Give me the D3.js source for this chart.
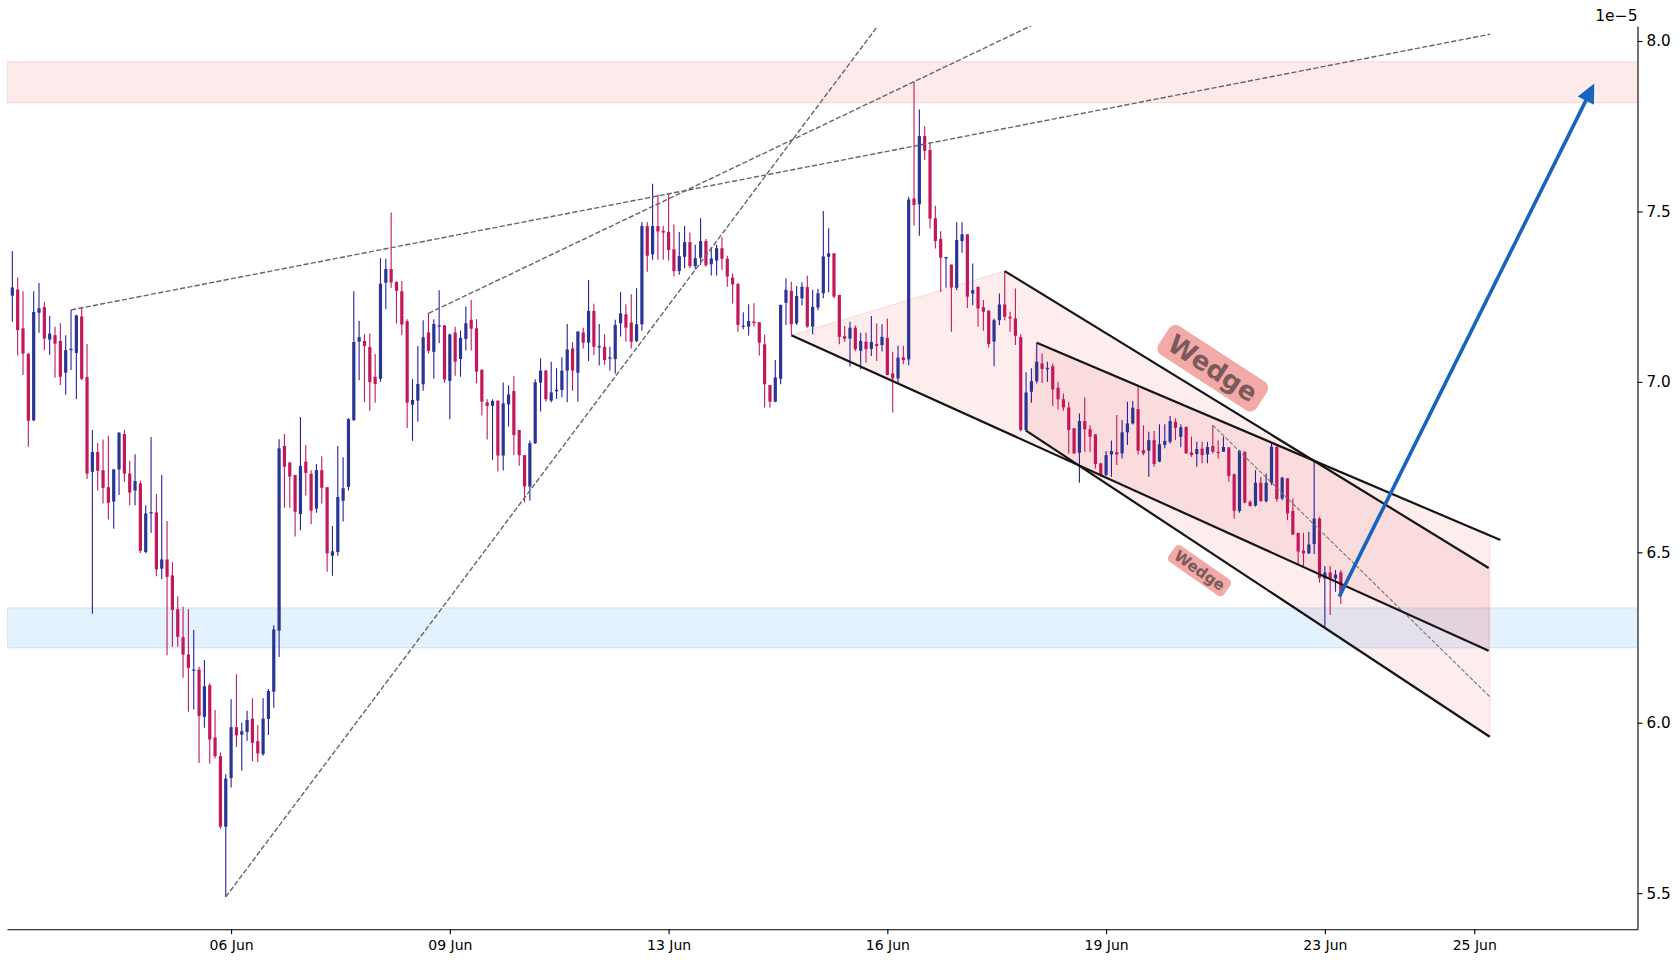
<!DOCTYPE html>
<html>
<head>
<meta charset="utf-8">
<script src="https://cdn.jsdelivr.net/npm/d3@7"></script>
<style>
  body { margin: 0; background: #fff; }
  svg { display: block; font-family: "DejaVu Sans", sans-serif; }
</style>
</head>
<body>
<div id="chart"></div>
<script>
// prices are in units of 1e-5 (the axis offset label)
const candleOpen = [
  7.253, 7.271, 7.157, 7.082, 6.887, 7.203, 7.219, 7.124, 7.137, 7.120,
  7.027, 7.093, 7.085, 7.192, 7.014, 6.736, 6.794, 6.741, 6.691, 6.649,
  6.743, 6.847, 6.731, 6.681, 6.702, 6.501, 6.614, 6.617, 6.452, 6.479,
  6.432, 6.333, 6.251, 6.200, 6.153, 6.156, 6.017, 6.110, 5.957, 5.902,
  5.695, 5.838, 5.987, 5.965, 5.973, 6.012, 5.946, 5.908, 6.011, 6.091,
  6.270, 6.812, 6.763, 6.727, 6.612, 6.766, 6.730, 6.628, 6.741, 6.691,
  6.490, 6.501, 6.651, 6.692, 6.888, 7.118, 7.120, 7.102, 7.015, 7.009,
  7.291, 7.331, 7.293, 7.266, 7.178, 6.933, 6.945, 6.993, 7.145, 7.088,
  7.162, 7.166, 7.003, 7.145, 7.067, 7.126, 7.182, 7.157, 7.035, 6.940,
  6.930, 6.945, 6.784, 6.934, 6.973, 6.859, 6.785, 6.693, 6.820, 6.998,
  7.033, 6.945, 6.972, 6.976, 7.033, 7.098, 7.027, 7.145, 7.115, 7.208,
  7.101, 7.103, 7.068, 7.067, 7.172, 7.198, 7.174, 7.120, 7.169, 7.457,
  7.374, 7.457, 7.443, 7.440, 7.389, 7.325, 7.367, 7.410, 7.340, 7.364,
  7.413, 7.345, 7.356, 7.392, 7.361, 7.306, 7.287, 7.162, 7.162, 7.177,
  7.175, 7.110, 6.991, 6.942, 7.009, 7.232, 7.267, 7.172, 7.245, 7.278,
  7.162, 7.218, 7.260, 7.367, 7.377, 7.255, 7.134, 7.127, 7.159, 7.091,
  7.118, 7.097, 7.111, 7.108, 7.129, 7.025, 7.010, 7.072, 7.066, 7.538,
  7.521, 7.721, 7.680, 7.480, 7.419, 7.362, 7.344, 7.276, 7.413, 7.433,
  7.259, 7.279, 7.219, 7.209, 7.118, 7.181, 7.227, 7.191, 7.186, 7.131,
  6.859, 6.971, 7.002, 7.054, 7.037, 7.046, 6.983, 6.949, 6.925, 6.864,
  6.792, 6.885, 6.861, 6.846, 6.761, 6.727, 6.787, 6.794, 6.790, 6.852,
  6.878, 6.920, 6.800, 6.798, 6.829, 6.766, 6.815, 6.824, 6.883, 6.839,
  6.868, 6.793, 6.788, 6.804, 6.787, 6.812, 6.795, 6.795, 6.808, 6.729,
  6.621, 6.795, 6.648, 6.637, 6.704, 6.650, 6.704, 6.810, 6.658, 6.717,
  6.621, 6.557, 6.505, 6.497, 6.524, 6.599, 6.423, 6.441, 6.423, 6.441
]
const candleHigh = [
  7.384, 7.306, 7.266, 7.085, 7.266, 7.290, 7.234, 7.193, 7.162, 7.172,
  7.137, 7.211, 7.197, 7.220, 7.111, 6.859, 6.821, 6.831, 6.842, 6.745,
  6.852, 6.859, 6.768, 6.788, 6.711, 6.638, 6.838, 6.671, 6.727, 6.592,
  6.471, 6.371, 6.340, 6.334, 6.272, 6.164, 6.184, 6.115, 6.037, 5.913,
  5.849, 6.069, 6.142, 6.000, 6.035, 6.072, 5.993, 6.072, 6.099, 6.286,
  6.832, 6.847, 6.766, 6.727, 6.897, 6.815, 6.741, 6.759, 6.782, 6.691,
  6.577, 6.812, 6.779, 6.893, 7.266, 7.179, 7.140, 7.142, 7.082, 7.363,
  7.361, 7.497, 7.295, 7.296, 7.184, 7.008, 7.105, 7.181, 7.202, 7.184,
  7.269, 7.166, 7.142, 7.162, 7.151, 7.221, 7.240, 7.184, 7.038, 6.949,
  6.949, 6.945, 6.998, 6.990, 7.017, 6.859, 6.785, 6.828, 7.008, 7.069,
  7.035, 7.059, 7.040, 7.072, 7.170, 7.116, 7.148, 7.159, 7.299, 7.229,
  7.170, 7.140, 7.103, 7.182, 7.264, 7.228, 7.257, 7.275, 7.469, 7.469,
  7.581, 7.550, 7.457, 7.551, 7.462, 7.440, 7.457, 7.438, 7.402, 7.480,
  7.419, 7.395, 7.402, 7.424, 7.370, 7.318, 7.291, 7.204, 7.228, 7.231,
  7.175, 7.138, 6.991, 7.064, 7.226, 7.304, 7.294, 7.281, 7.292, 7.311,
  7.270, 7.273, 7.501, 7.451, 7.377, 7.255, 7.164, 7.176, 7.165, 7.144,
  7.144, 7.193, 7.171, 7.169, 7.186, 7.088, 7.106, 7.106, 7.543, 7.880,
  7.799, 7.750, 7.704, 7.517, 7.442, 7.367, 7.344, 7.468, 7.468, 7.433,
  7.347, 7.279, 7.240, 7.209, 7.186, 7.259, 7.325, 7.206, 7.274, 7.140,
  7.028, 7.040, 7.115, 7.083, 7.059, 7.054, 7.000, 6.966, 6.942, 6.864,
  6.907, 6.954, 6.873, 6.846, 6.763, 6.797, 6.828, 6.903, 6.888, 6.942,
  6.944, 6.984, 6.873, 6.854, 6.856, 6.876, 6.876, 6.900, 6.893, 6.876,
  6.868, 6.839, 6.824, 6.824, 6.824, 6.873, 6.829, 6.839, 6.808, 6.731,
  6.800, 6.795, 6.653, 6.741, 6.722, 6.731, 6.820, 6.810, 6.722, 6.717,
  6.658, 6.557, 6.557, 6.560, 6.766, 6.604, 6.460, 6.460, 6.448, 6.448
]
const candleLow = [
  7.176, 7.077, 7.020, 6.810, 6.885, 7.144, 7.093, 7.079, 7.012, 6.991,
  6.962, 7.035, 6.950, 7.005, 6.715, 6.320, 6.681, 6.643, 6.596, 6.569,
  6.668, 6.707, 6.638, 6.638, 6.498, 6.497, 6.557, 6.430, 6.422, 6.198,
  6.223, 6.223, 6.132, 6.032, 6.039, 5.882, 5.985, 5.880, 5.895, 5.690,
  5.489, 5.810, 5.929, 5.859, 5.947, 5.887, 5.885, 5.903, 5.964, 6.044,
  6.193, 6.631, 6.631, 6.546, 6.565, 6.667, 6.582, 6.616, 6.643, 6.443,
  6.431, 6.490, 6.590, 6.681, 6.885, 7.005, 6.941, 6.915, 6.939, 7.000,
  7.214, 7.276, 7.171, 7.137, 6.865, 6.827, 6.883, 6.974, 7.083, 7.009,
  7.113, 6.997, 6.890, 7.018, 7.015, 7.092, 7.092, 6.996, 6.901, 6.831,
  6.771, 6.737, 6.740, 6.869, 6.785, 6.754, 6.647, 6.652, 6.818, 6.913,
  6.942, 6.940, 6.950, 6.955, 6.940, 6.974, 6.942, 7.098, 7.061, 7.079,
  7.048, 7.050, 7.033, 7.024, 7.133, 7.118, 7.098, 7.116, 7.151, 7.323,
  7.358, 7.358, 7.358, 7.356, 7.309, 7.314, 7.333, 7.333, 7.330, 7.343,
  7.338, 7.312, 7.312, 7.328, 7.279, 7.230, 7.147, 7.154, 7.136, 7.162,
  7.077, 6.925, 6.925, 6.940, 6.993, 7.167, 7.138, 7.167, 7.224, 7.159,
  7.140, 7.210, 7.245, 7.263, 7.245, 7.110, 7.118, 7.044, 7.090, 7.037,
  7.056, 7.076, 7.061, 7.089, 7.020, 6.910, 6.995, 7.052, 7.049, 7.459,
  7.429, 7.651, 7.450, 7.391, 7.264, 7.276, 7.147, 7.269, 7.379, 7.217,
  7.225, 7.162, 7.150, 7.101, 7.046, 7.166, 7.181, 7.147, 7.108, 6.855,
  6.854, 6.939, 6.995, 6.997, 7.000, 6.929, 6.919, 6.915, 6.790, 6.790,
  6.704, 6.794, 6.795, 6.746, 6.722, 6.724, 6.722, 6.756, 6.775, 6.815,
  6.875, 6.786, 6.785, 6.722, 6.751, 6.764, 6.805, 6.819, 6.829, 6.808,
  6.790, 6.780, 6.751, 6.761, 6.761, 6.790, 6.775, 6.795, 6.707, 6.599,
  6.616, 6.643, 6.634, 6.634, 6.648, 6.646, 6.697, 6.648, 6.653, 6.595,
  6.551, 6.462, 6.458, 6.495, 6.495, 6.411, 6.277, 6.316, 6.384, 6.348
]
const candleClose = [
  7.277, 7.152, 7.083, 6.886, 7.205, 7.216, 7.127, 7.142, 7.112, 7.015,
  7.093, 7.097, 7.195, 7.009, 6.731, 6.794, 6.739, 6.689, 6.645, 6.743,
  6.851, 6.731, 6.675, 6.709, 6.504, 6.614, 6.618, 6.450, 6.479, 6.428,
  6.331, 6.252, 6.200, 6.161, 6.156, 6.020, 6.107, 5.951, 5.902, 5.695,
  5.836, 5.987, 5.963, 5.975, 6.008, 5.941, 5.910, 6.012, 6.093, 6.274,
  6.805, 6.751, 6.722, 6.619, 6.753, 6.733, 6.622, 6.741, 6.689, 6.497,
  6.503, 6.662, 6.688, 6.891, 7.117, 7.131, 7.105, 6.999, 6.994, 7.288,
  7.331, 7.292, 7.267, 7.168, 6.939, 6.947, 6.994, 7.131, 7.091, 7.170,
  7.166, 7.007, 7.139, 7.059, 7.129, 7.172, 7.156, 7.030, 6.942, 6.929,
  6.944, 6.784, 6.937, 6.963, 6.844, 6.785, 6.693, 6.820, 6.999, 7.033,
  6.949, 6.969, 6.977, 7.033, 7.095, 7.033, 7.148, 7.115, 7.208, 7.103,
  7.105, 7.064, 7.072, 7.167, 7.201, 7.159, 7.118, 7.169, 7.457, 7.370,
  7.457, 7.441, 7.438, 7.387, 7.325, 7.369, 7.410, 7.340, 7.363, 7.413,
  7.342, 7.362, 7.392, 7.361, 7.309, 7.286, 7.167, 7.165, 7.178, 7.172,
  7.115, 6.993, 6.942, 7.013, 7.226, 7.270, 7.169, 7.252, 7.279, 7.162,
  7.220, 7.260, 7.368, 7.377, 7.250, 7.132, 7.127, 7.159, 7.096, 7.120,
  7.096, 7.117, 7.105, 7.132, 7.020, 7.010, 7.071, 7.064, 7.535, 7.519,
  7.721, 7.678, 7.479, 7.413, 7.364, 7.366, 7.277, 7.416, 7.433, 7.250,
  7.269, 7.215, 7.206, 7.111, 7.181, 7.227, 7.191, 7.186, 7.135, 6.859,
  6.969, 7.002, 7.059, 7.038, 7.041, 6.978, 6.949, 6.925, 6.859, 6.790,
  6.885, 6.861, 6.839, 6.759, 6.727, 6.785, 6.797, 6.787, 6.852, 6.878,
  6.924, 6.798, 6.790, 6.829, 6.759, 6.817, 6.827, 6.885, 6.865, 6.867,
  6.790, 6.785, 6.803, 6.785, 6.809, 6.795, 6.792, 6.809, 6.724, 6.622,
  6.798, 6.646, 6.636, 6.704, 6.650, 6.704, 6.810, 6.656, 6.719, 6.614,
  6.552, 6.502, 6.497, 6.523, 6.599, 6.425, 6.441, 6.423, 6.435, 6.379
]

// x axis is the candle index; ticks carry the date labels
const xTickIndex = [41, 82, 123, 164, 205, 246, 274]
const xTickLabels = ["06 Jun", "09 Jun", "13 Jun", "16 Jun", "19 Jun", "23 Jun", "25 Jun"]
const yTicks = [5.5, 6.0, 6.5, 7.0, 7.5, 8.0]
const yOffsetLabel = "1e\u22125"

// zones [low, high]
const resistanceZone = [7.819, 7.939]
const supportZone = [6.220, 6.337]

// trend lines as [index, price] pairs
const dashedLines = [
  [[11, 7.211], [277, 8.020]],
  [[78, 7.201], [191, 8.045]],
  [[40, 5.489], [162, 8.040]],
]
const fineDashedLine = [[225, 6.873], [277, 6.075]]

const outerUpper = [[186, 7.325], [276.7, 6.454]]
const outerLower = [[146, 7.137], [276.7, 6.211]]
const innerUpper = [[192, 7.115], [278.9, 6.536]]
const innerLower = [[190, 6.857], [276.9, 5.959]]

const wedgeLabels = [
  { text: "Wedge", at: [225.0, 7.040], size: 26, angle: 33 },
  { text: "Wedge", at: [222.5, 6.446], size: 15, angle: 35 },
]
const projectionArrow = [[248.7, 6.370], [296.5, 7.875]]

async function drawCandles() {

// 1. Dimensions
  const dimensions = {
    width: 1680,
    height: 960,
    left: 7,
    right: 1637.5,
    top: 26,
    bottom: 929.3,
  }

// 2. Canvas
  const wrapper = d3.select("#chart")
    .append("svg")
      .attr("width", dimensions.width)
      .attr("height", dimensions.height)

  wrapper.append("defs").append("clipPath")
      .attr("id", "plotClip")
    .append("rect")
      .attr("x", dimensions.left)
      .attr("y", dimensions.top)
      .attr("width", dimensions.right - dimensions.left)
      .attr("height", dimensions.bottom - dimensions.top)

  const bounds = wrapper.append("g")
      .attr("clip-path", "url(#plotClip)")

// 3. Scales
  const xScale = d3.scaleLinear()
    .domain([-1, 304.6])
    .range([dimensions.left, dimensions.right])

  const yScale = d3.scaleLinear()
    .domain([5.394, 8.044])
    .range([dimensions.bottom, dimensions.top])

  const pt = d => [xScale(d[0]), yScale(d[1])]
  const lerp = (seg, x) => {
    const [[x0, y0], [x1, y1]] = seg
    return y0 + (y1 - y0) * (x - x0) / (x1 - x0)
  }

// 4. Zones
  const drawZone = (zone, color) => bounds.append("rect")
      .attr("x", dimensions.left)
      .attr("width", dimensions.right - dimensions.left)
      .attr("y", yScale(zone[1]))
      .attr("height", yScale(zone[0]) - yScale(zone[1]))
      .attr("fill", color)
      .attr("fill-opacity", 0.12)
      .attr("stroke", color)
      .attr("stroke-opacity", 0.16)
      .attr("stroke-width", 1.2)

  drawZone(resistanceZone, "#ef5350")
  drawZone(supportZone, "#2196f3")

// 5. Wedge fills
  const outerPoly = [outerLower[0], outerUpper[0], outerUpper[1], outerLower[1]]
  const innerEnd = innerLower[1][0]
  const innerPoly = [innerLower[0], innerUpper[0], [innerEnd, lerp(innerUpper, innerEnd)], innerLower[1]]

  ;[outerPoly, innerPoly].forEach(poly => {
    bounds.append("path")
        .attr("d", d3.line()(poly.map(pt)) + "Z")
        .attr("fill", "#ef5350")
        .attr("fill-opacity", 0.1)
        .attr("stroke", "#ef5350")
        .attr("stroke-opacity", 0.12)
        .attr("stroke-width", 1.5)
  })

// 6. Candles
  const upColor = "#283593"
  const downColor = "#c2185b"
  const step = xScale(1) - xScale(0)
  const bodyWidth = step * 0.6

  const candles = bounds.append("g")
    .selectAll("g")
    .data(d3.range(candleOpen.length))
    .join("g")

  const colorOf = i => candleClose[i] >= candleOpen[i] ? upColor : downColor

  candles.append("line")
      .attr("x1", i => xScale(i))
      .attr("x2", i => xScale(i))
      .attr("y1", i => yScale(candleHigh[i]))
      .attr("y2", i => yScale(candleLow[i]))
      .attr("stroke", i => candleClose[i] >= candleOpen[i] ? "#2a1fa0" : downColor)
      .attr("stroke-width", 1.1)

  candles.append("rect")
      .attr("x", i => xScale(i) - bodyWidth / 2)
      .attr("width", bodyWidth)
      .attr("y", i => yScale(Math.max(candleOpen[i], candleClose[i])))
      .attr("height", i => Math.max(1.2,
        Math.abs(yScale(candleOpen[i]) - yScale(candleClose[i]))))
      .attr("fill", colorOf)

// 7. Trend lines
  dashedLines.forEach(seg => {
    bounds.append("path")
        .attr("d", d3.line()(seg.map(pt)))
        .attr("stroke", "#666")
        .attr("stroke-width", 1.4)
        .attr("stroke-dasharray", "5.2,2.2")
        .attr("fill", "none")
  })

  bounds.append("path")
      .attr("d", d3.line()(fineDashedLine.map(pt)))
      .attr("stroke", "#777")
      .attr("stroke-width", 1.1)
      .attr("stroke-dasharray", "4.1,1.8")
      .attr("fill", "none")

  ;[outerUpper, outerLower, innerUpper, innerLower].forEach(seg => {
    bounds.append("path")
        .attr("d", d3.line()(seg.map(pt)))
        .attr("stroke", "#151515")
        .attr("stroke-width", 2.2)
        .attr("fill", "none")
  })

// 8. Labels
  wedgeLabels.forEach(lab => {
    const [cx, cy] = pt(lab.at)
    const g = bounds.append("g")
        .attr("transform", `translate(${cx},${cy}) rotate(${lab.angle})`)
    const box = g.append("rect")
    const label = g.append("text")
        .attr("text-anchor", "middle")
        .attr("dominant-baseline", "central")
        .attr("font-weight", "bold")
        .style("font-family", "'DejaVu Sans', sans-serif")
        .style("font-size", lab.size + "px")
        .attr("fill", "#7a5a5a")
        .text(lab.text)
    const bb = label.node().getBBox()
    const padX = lab.size * 0.32
    const h = lab.size * 1.32
    box.attr("x", -bb.width / 2 - padX)
        .attr("y", -h / 2)
        .attr("width", bb.width + padX * 2)
        .attr("height", h)
        .attr("rx", lab.size * 0.3)
        .attr("fill", "#f3a9a7")
  })

// 9. Arrow
  const [a0, a1] = projectionArrow.map(pt)
  const dx = a1[0] - a0[0], dy = a1[1] - a0[1]
  const len = Math.hypot(dx, dy)
  const ux = dx / len, uy = dy / len
  const headLen = 19, headHalf = 9
  const base = [a1[0] - ux * headLen, a1[1] - uy * headLen]

  bounds.append("line")
      .attr("x1", a0[0]).attr("y1", a0[1])
      .attr("x2", base[0] + ux * 2).attr("y2", base[1] + uy * 2)
      .attr("stroke", "#1565c0")
      .attr("stroke-width", 3.6)

  bounds.append("path")
      .attr("d", d3.line()([
        a1,
        [base[0] - uy * headHalf, base[1] + ux * headHalf],
        [base[0] + uy * headHalf, base[1] - ux * headHalf],
      ]) + "Z")
      .attr("fill", "#1565c0")

// 10. Axes
  const xAxisGenerator = d3.axisBottom(xScale)
    .tickValues(xTickIndex)
    .tickFormat((d, i) => xTickLabels[i])
    .tickSize(5)
    .tickSizeOuter(0)
    .tickPadding(6)

  const xAxis = wrapper.append("g")
      .attr("transform", `translate(0,${dimensions.bottom})`)
      .call(xAxisGenerator)
  xAxis.selectAll("text").style("font-size", "14px")

  const yAxisGenerator = d3.axisRight(yScale)
    .tickValues(yTicks)
    .tickFormat(d3.format(".1f"))
    .tickSize(5)
    .tickSizeOuter(0)
    .tickPadding(4)

  const yAxis = wrapper.append("g")
      .attr("transform", `translate(${dimensions.right},0)`)
      .call(yAxisGenerator)
  yAxis.selectAll("text").style("font-size", "15.2px")

  ;[xAxis, yAxis].forEach(ax => {
    ax.select(".domain").attr("stroke", "#000").attr("stroke-width", 1.1)
    ax.selectAll(".tick line").attr("stroke", "#000").attr("stroke-width", 1.1)
    ax.selectAll("text")
        .attr("fill", "#000")
        .style("font-family", "'DejaVu Sans', sans-serif")
  })

  wrapper.append("text")
      .attr("x", dimensions.right)
      .attr("y", 21)
      .attr("text-anchor", "end")
      .style("font-family", "'DejaVu Sans', sans-serif")
      .style("font-size", "15.5px")
      .attr("fill", "#000")
      .text(yOffsetLabel)
}

drawCandles()
</script>
</body>
</html>
